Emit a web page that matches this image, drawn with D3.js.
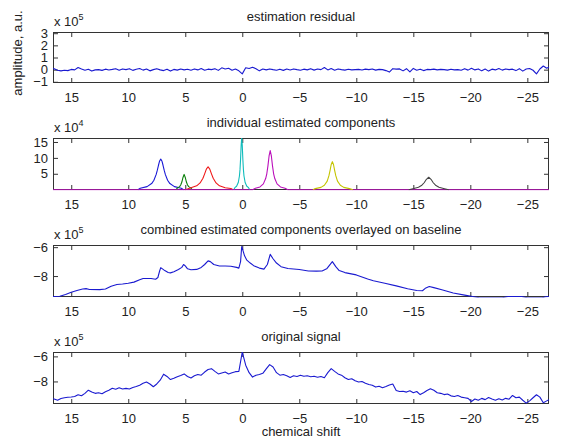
<!DOCTYPE html>
<html><head><meta charset="utf-8">
<script src="https://cdn.jsdelivr.net/npm/d3@7"></script>
<style>
body{margin:0;background:#fff}
text{font-family:"Liberation Sans",Arial,sans-serif;fill:#222}
</style>
</head><body>
<svg id="c" width="561" height="439"></svg>
<script>
// ---------- data ----------
const shiftTicks = [15, 10, 5, 0, -5, -10, -15, -20, -25];
const shiftDomain = [16.6, -26.9];

// sampled signals: shift = gridStart - gridStep * index
const gridStart = 16.8, gridStep = 0.3;

// estimation residual (x 10^5)
const residual = [
 0.05,0.08,-0.05,-0.1,-0.05,-0.08,0.02,-0.02,0.18,0.05,
 -0.05,0.03,-0.12,-0.02,0.0,-0.06,0.04,-0.03,0.02,0.08,
 -0.05,0.06,0.0,0.08,-0.06,0.03,0.1,-0.04,0.05,-0.1,
 0.0,0.08,-0.02,-0.08,0.04,-0.12,0.02,-0.04,0.05,-0.02,
 0.03,-0.05,0.06,-0.02,0.1,-0.05,0.04,0.0,0.08,-0.06,
 0.15,0.05,0.12,-0.05,0.05,-0.1,-0.35,0.15,0.1,0.2,
 0.08,-0.1,0.05,-0.02,0.06,0.0,-0.05,0.04,-0.06,0.05,
 -0.03,0.06,0.0,-0.05,0.04,-0.02,0.08,-0.04,0.05,0.0,
 0.18,-0.02,0.1,-0.05,0.06,0.0,-0.04,0.03,-0.02,0.0,
 0.02,-0.03,0.04,0.0,0.06,-0.04,0.02,0.0,-0.08,-0.2,
 0.08,0.04,0.06,-0.1,0.08,-0.18,0.1,-0.05,0.04,-0.08,
 0.02,0.0,0.04,-0.02,0.02,0.0,-0.04,0.03,-0.02,0.0,
 -0.05,0.08,-0.04,0.12,-0.02,0.06,-0.1,0.05,-0.12,0.04,
 -0.02,0.1,-0.04,0.06,0.0,0.04,-0.08,0.08,-0.12,0.05,
 0.1,-0.05,-0.35,0.05,0.3,0.12,0.25
];

// original signal (x 10^5)
const original = [
 -9.35,-9.4,-9.5,-9.36,-9.3,-9.26,-9.24,-9.2,-9.06,-9.14,
 -8.95,-8.7,-8.85,-8.95,-8.9,-8.98,-8.82,-8.7,-8.55,-8.62,
 -8.5,-8.6,-8.55,-8.6,-8.48,-8.4,-8.3,-8.15,-8.05,-8.2,
 -8.42,-8.2,-7.9,-7.42,-7.6,-7.85,-7.75,-7.62,-7.52,-7.4,
 -7.6,-7.72,-7.55,-7.45,-7.5,-7.25,-7.05,-6.98,-7.2,-7.4,
 -7.32,-7.25,-7.4,-7.3,-7.22,-7.2,-5.65,-6.7,-7.3,-7.65,
 -7.5,-7.45,-7.35,-7.0,-6.66,-6.85,-7.3,-7.5,-7.45,-7.55,
 -7.68,-7.55,-7.6,-7.5,-7.58,-7.55,-7.62,-7.58,-7.66,-7.6,
 -7.7,-7.3,-6.98,-7.2,-7.4,-7.5,-7.7,-7.85,-7.78,-7.95,
 -8.05,-8.0,-8.15,-8.25,-8.3,-8.45,-8.38,-8.5,-8.4,-8.28,
 -8.2,-8.72,-8.8,-8.78,-8.85,-8.75,-8.9,-8.8,-9.05,-8.9,
 -8.72,-8.58,-8.7,-8.9,-8.95,-9.05,-9.0,-9.15,-9.2,-9.12,
 -9.25,-9.3,-9.35,-9.6,-9.4,-9.5,-9.35,-9.45,-9.28,-9.4,
 -9.5,-9.38,-9.48,-9.35,-9.42,-9.12,-9.3,-9.25,-9.5,-9.73,
 -9.55,-9.3,-9.06,-9.25,-9.7,-9.55,-9.4
];

// combined estimated components on baseline (x 10^5), [shift, value]
const combined = [
 [16.6,-9.42],[16.0,-9.4],[15.5,-9.28],[15.0,-9.12],[14.5,-9.0],[14.0,-8.9],[13.7,-8.87],[13.4,-8.93],
 [12.5,-8.94],[12.0,-8.9],[11.5,-8.7],[11.0,-8.58],[10.5,-8.55],[10.0,-8.5],[9.5,-8.42],[9.0,-8.25],
 [8.7,-8.17],[8.0,-8.17],[7.6,-8.22],[7.4,-8.1],[7.25,-7.65],[7.15,-7.42],[7.0,-7.5],[6.8,-7.62],
 [6.5,-7.75],[6.3,-7.78],[6.0,-7.7],[5.6,-7.55],[5.3,-7.4],[5.15,-7.2],[5.0,-7.3],[4.8,-7.5],
 [4.5,-7.56],[4.0,-7.54],[3.6,-7.4],[3.3,-7.2],[3.0,-6.95],[2.8,-7.0],[2.5,-7.2],[2.0,-7.3],
 [1.5,-7.3],[1.0,-7.32],[0.5,-7.4],[0.3,-7.45],[0.15,-7.0],[0.05,-5.95],[-0.05,-6.2],[-0.2,-6.6],
 [-0.4,-6.9],[-0.7,-7.1],[-1.0,-7.28],[-1.5,-7.45],[-1.9,-7.52],[-2.2,-7.2],[-2.45,-6.5],[-2.7,-6.8],
 [-3.0,-7.1],[-3.4,-7.35],[-4.0,-7.48],[-5.0,-7.55],[-5.8,-7.65],[-6.5,-7.66],[-7.0,-7.65],[-7.4,-7.5],
 [-7.9,-7.0],[-8.2,-7.35],[-8.5,-7.62],[-9.0,-7.76],[-10.0,-7.92],[-11.0,-8.2],[-11.5,-8.33],[-12.5,-8.5],
 [-13.5,-8.68],[-14.5,-8.88],[-15.3,-9.0],[-15.8,-9.02],[-16.1,-8.82],[-16.4,-8.72],[-16.8,-8.8],[-17.5,-8.95],
 [-18.5,-9.17],[-19.5,-9.32],[-20.2,-9.42],[-20.8,-9.5],[-22.8,-9.5],[-23.3,-9.42],[-24.5,-9.42],[-25.0,-9.5],
 [-26.3,-9.5],[-26.6,-9.43],[-26.9,-9.42]
];

// individual estimated components (x 10^4), [shift, value]
const compBlue = [[9.15,0],[8.95,0.45],[8.35,0.96],[7.95,1.92],[7.75,2.95],[7.55,4.8],[7.45,6.14],[7.35,7.68],[7.25,9.04],[7.15,9.6],[7.05,9.04],[6.95,7.68],[6.85,6.14],[6.75,4.8],[6.55,2.95],[6.35,1.92],[5.95,0.96],[5.35,0.45],[5.15,0]];
const compGreen = [[5.8,0],[5.7,0.48],[5.5,0.96],[5.4,1.48],[5.3,2.4],[5.2,3.84],[5.1,4.8],[5.0,3.84],[4.9,2.4],[4.8,1.48],[4.7,0.96],[4.5,0.48],[4.4,0]];
const compRed = [[5.0,0],[4.5,0.6],[4.0,1.22],[3.7,2.12],[3.45,3.6],[3.3,4.98],[3.15,6.48],[3.0,7.2],[2.85,6.48],[2.7,4.98],[2.55,3.6],[2.3,2.12],[2.0,1.22],[1.5,0.6],[1.0,0.35],[0.8,0]];
const compCyan = [[0.75,0],[0.65,0.63],[0.5,1.08],[0.35,2.25],[0.25,4.3],[0.2,6.3],[0.15,9.6],[0.1,13.9],[0.05,16.3],[0.0,13.9],[-0.05,9.6],[-0.1,6.3],[-0.15,4.3],[-0.25,2.25],[-0.4,1.08],[-0.55,0.63],[-0.65,0]];
const compMagenta = [[16.6,0],[-0.9,0],[-1.15,0.44],[-1.55,0.87],[-1.85,1.82],[-2.05,3.5],[-2.15,5.0],[-2.25,7.5],[-2.35,10.6],[-2.45,12.3],[-2.55,10.6],[-2.65,7.5],[-2.75,5.0],[-2.85,3.5],[-3.05,1.82],[-3.35,0.87],[-3.75,0.44],[-4.0,0],[-26.9,0]];
const compYellow = [[-6.2,0],[-6.4,0.34],[-6.9,0.73],[-7.2,1.4],[-7.45,2.7],[-7.6,4.4],[-7.7,6.09],[-7.8,7.92],[-7.9,8.8],[-8.0,7.92],[-8.1,6.09],[-8.2,4.4],[-8.35,2.7],[-8.6,1.4],[-8.9,0.73],[-9.4,0.34],[-9.7,0]];
const compGray = [[-14.6,0],[-15.05,0.4],[-15.45,0.78],[-15.75,1.4],[-15.95,2.18],[-16.15,3.26],[-16.35,3.9],[-16.55,3.26],[-16.75,2.18],[-16.95,1.4],[-17.25,0.78],[-17.65,0.4],[-18.1,0]];
const components = [compBlue, compGreen, compRed, compCyan, compMagenta, compYellow, compGray];
const componentColors = ["#1a1ad6", "#0b800b", "#f01818", "#10bcbc", "#bb10bb", "#c4c400", "#444444"];

const titles = ["estimation residual", "individual estimated components",
  "combined estimated components overlayed on baseline", "original signal"];
const exponents = ["5", "4", "5", "5"];
const yTicks1 = [3, 2, 1, 0, -1];
const yTicks2 = [5, 10, 15];
const yTicks3 = [-6, -8];
const yTicks4 = [-6, -8];

// ---------- drawing ----------
const svg = d3.select("#c");
const left = 53, right = 549;
const x = d3.scaleLinear().domain(shiftDomain).range([left, right]);
const lineCol = "#1a1ad0";
const fs = 13;
const intFmt = d3.format("d");

const panels = [
  {top: 32, bottom: 83, yd: [-1.1, 3.1], ticks: yTicks1},
  {top: 138, bottom: 190, yd: [-0.1, 16.25], ticks: yTicks2},
  {top: 245, bottom: 297, yd: [-9.45, -5.85], ticks: yTicks3},
  {top: 352, bottom: 404, yd: [-9.8, -5.65], ticks: yTicks4}
];

const gridSeries = arr => arr.map((v, i) => [gridStart - gridStep * i, v]);
const seriesByPanel = [
  [{data: gridSeries(residual), color: lineCol}],
  components.map((c, i) => ({data: c, color: componentColors[i]})),
  [{data: combined, color: lineCol}],
  [{data: gridSeries(original), color: lineCol}]
];

panels.forEach((p, pi) => {
  const y = d3.scaleLinear().domain(p.yd).range([p.bottom, p.top]);
  const g = svg.append("g");
  const cid = "clip" + pi;
  svg.append("clipPath").attr("id", cid).append("rect")
    .attr("x", left).attr("y", p.top).attr("width", right - left).attr("height", p.bottom - p.top + 0.5);

  const styleAxis = sel => {
    sel.select(".domain").remove();
    sel.selectAll("line").attr("stroke", "#333");
    sel.selectAll("text").attr("font-size", fs).attr("fill", "#222")
      .attr("font-family", '"Liberation Sans", Arial, sans-serif');
  };
  g.append("g").attr("transform", `translate(0,${p.bottom})`)
    .call(d3.axisBottom(x).tickValues(shiftTicks).tickSize(-5).tickPadding(10))
    .call(styleAxis);
  g.append("g").attr("transform", `translate(0,${p.top})`)
    .call(d3.axisTop(x).tickValues(shiftTicks).tickSize(-5).tickFormat(""))
    .call(styleAxis);
  g.append("g").attr("transform", `translate(${left},0)`)
    .call(d3.axisLeft(y).tickValues(p.ticks).tickSize(-5).tickPadding(5).tickFormat(intFmt))
    .call(styleAxis);
  g.append("g").attr("transform", `translate(${right},0)`)
    .call(d3.axisRight(y).tickValues(p.ticks).tickSize(-5).tickFormat(""))
    .call(styleAxis);

  g.append("rect").attr("x", left + 0.5).attr("y", p.top + 0.5)
    .attr("width", right - left - 1).attr("height", p.bottom - p.top - 1)
    .attr("fill", "none").attr("stroke", "#333").attr("stroke-width", 1);

  const line = d3.line().x(d => x(d[0])).y(d => y(d[1]));
  const lg = g.append("g").attr("clip-path", `url(#${cid})`);
  seriesByPanel[pi].forEach(s => {
    lg.append("path").attr("d", line(s.data)).attr("fill", "none")
      .attr("stroke", s.color).attr("stroke-width", 1.1).attr("stroke-linejoin", "round");
  });

  g.append("text").attr("x", 301).attr("y", p.top - 11).attr("text-anchor", "middle")
    .attr("font-size", fs).text(titles[pi]);

  const ex = g.append("text").attr("x", left + 1).attr("y", p.top - 6).attr("font-size", fs);
  ex.append("tspan").text("x 10");
  ex.append("tspan").attr("font-size", 9).attr("dy", -6).text(exponents[pi]);
});

svg.append("text").attr("x", 301).attr("y", 436).attr("text-anchor", "middle")
  .attr("font-size", fs).text("chemical shift");
svg.append("text").attr("transform", "translate(22,53) rotate(-90)")
  .attr("text-anchor", "middle").attr("font-size", fs).text("amplitude, a.u.");
</script>
</body></html>
